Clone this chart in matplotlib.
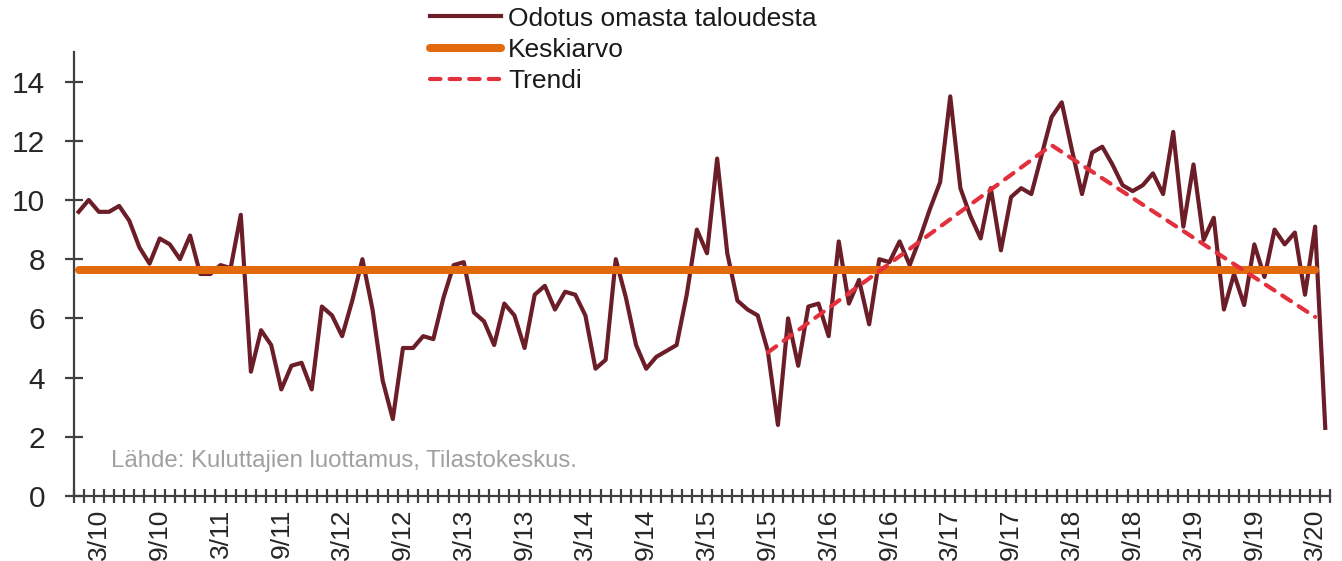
import numpy as np
import pandas as pd
import matplotlib.pyplot as plt
from matplotlib.ticker import FixedLocator

plt.switch_backend('Agg')
plt.rcParams['font.family'] = ['Liberation Sans', 'DejaVu Sans']

# monthly data, 1/2010 - 4/2020
start_month = '2010-01'
odotus = [
    9.6, 10.0, 9.6, 9.6, 9.8, 9.3, 8.4, 7.85, 8.7, 8.5,
    8.0, 8.8, 7.5, 7.5, 7.8, 7.7, 9.5, 4.2, 5.6, 5.1,
    3.6, 4.4, 4.5, 3.6, 6.4, 6.1, 5.4, 6.6, 8.0, 6.3,
    3.9, 2.6, 5.0, 5.0, 5.4, 5.3, 6.7, 7.8, 7.9, 6.2,
    5.9, 5.1, 6.5, 6.1, 5.0, 6.8, 7.1, 6.3, 6.9, 6.8,
    6.1, 4.3, 4.6, 8.0, 6.7, 5.1, 4.3, 4.7, 4.9, 5.1,
    6.8, 9.0, 8.2, 11.4, 8.2, 6.6, 6.3, 6.1, 4.9, 2.4,
    6.0, 4.4, 6.4, 6.5, 5.4, 8.6, 6.5, 7.3, 5.8, 8.0,
    7.9, 8.6, 7.8, 8.7, 9.7, 10.6, 13.5, 10.4, 9.45, 8.7,
    10.4, 8.3, 10.1, 10.4, 10.2, 11.5, 12.8, 13.3, 11.7, 10.2,
    11.6, 11.8, 11.2, 10.5, 10.3, 10.5, 10.9, 10.2, 12.3, 9.1,
    11.2, 8.65, 9.4, 6.3, 7.5, 6.45, 8.5, 7.4, 9.0, 8.5,
    8.9, 6.8, 9.1, 2.3,
]
keskiarvo = 7.65
keskiarvo_end = '2020-03'
trendi_months = ['2015-09', '2018-01', '2020-03']
trendi_values = [4.85, 11.85, 6.05]
label_months = [3, 9]
source = 'Lähde: Kuluttajien luottamus, Tilastokeskus.'

months = pd.period_range(start_month, periods=len(odotus), freq='M')
x = np.arange(len(months))
pos = {str(m): i for i, m in enumerate(months)}

maroon = '#6B1E28'
orange = '#E36A0C'
red = '#E2303C'
axis_col = '#404040'

fig = plt.figure(figsize=(13.42, 5.61), dpi=100)
ax = fig.add_axes([0.0548, 0.1159, 0.9913 - 0.0548, 0.9073 - 0.1159])

ax.plot(x, odotus, color=maroon, lw=3, solid_joinstyle='round', zorder=2,
        label='Odotus omasta taloudesta')
mx = x[:pos[keskiarvo_end] + 1]
ax.plot(mx, [keskiarvo] * len(mx), color=orange, lw=5.8, solid_capstyle='round',
        zorder=3, label='Keskiarvo')
ax.plot([pos[m] for m in trendi_months], trendi_values, color=red, lw=3,
        dashes=(2.5, 2.2), dash_capstyle='round', zorder=4, label='Trendi')

ax.set_xlim(-0.5, len(x) - 0.5)
ax.set_ylim(0, 15)
ax.set_yticks(np.arange(0, 15, 2))

lab_idx = [i for i, m in enumerate(months) if m.month in label_months]
ax.set_xticks(lab_idx)
ax.set_xticklabels([f'{months[i].month}/{months[i].year % 100:02d}' for i in lab_idx],
                   rotation=90)
ax.xaxis.set_minor_locator(FixedLocator(np.arange(-0.5, len(x), 1)))

for s in ['top', 'right']:
    ax.spines[s].set_visible(False)
for s in ['left', 'bottom']:
    ax.spines[s].set_color(axis_col)
    ax.spines[s].set_linewidth(1.6)

ax.tick_params(axis='y', direction='inout', length=13, width=1.6, color=axis_col,
               labelsize=21.5, labelcolor='#262626', pad=14)
ax.tick_params(axis='x', which='major', length=0, labelsize=19,
               labelcolor='#262626', pad=9)
ax.tick_params(axis='x', which='minor', direction='inout', length=10, width=1.6,
               color=axis_col)

ax.text(0.0298, 0.0653, source, transform=ax.transAxes, fontsize=17.3,
        color='#A0A0A0', va='baseline', ha='left')

fig.legend(loc='upper left', bbox_to_anchor=(430 / 1342, 0.988), frameon=False,
           fontsize=19, borderpad=0, borderaxespad=0, handlelength=2.7,
           handletextpad=0.27, labelspacing=0.27, labelcolor='#1a1a1a')

fig.savefig('out.png', dpi=100)
